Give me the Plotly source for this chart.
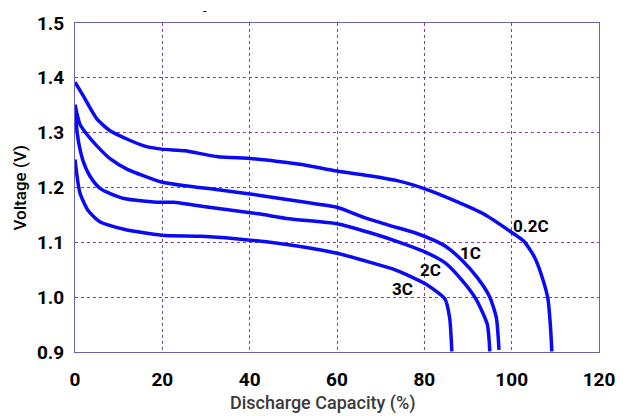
import plotly.graph_objects as go

# Discharge capacity (%) and voltage (V) for each discharge rate
cap_02c = [0, 1.9, 5, 8.1, 12, 15.8, 19.8, 25.2, 32.8, 40, 46, 52, 60, 67.8, 74, 80.3, 86.9, 93.5, 100.2, 102.8, 105.3, 107.2, 108.3, 108.9, 109.2]
v_02c = [1.392, 1.367, 1.325, 1.303, 1.288, 1.276, 1.270, 1.267, 1.256, 1.253, 1.248, 1.242, 1.230, 1.221, 1.212, 1.197, 1.176, 1.152, 1.117, 1.102, 1.072, 1.031, 0.997, 0.945, 0.901]

cap_1c = [0, 1.1, 2.7, 5, 8.1, 12, 15.8, 19.8, 25.2, 32.8, 42, 52.8, 60, 66, 72, 78, 82.4, 85, 88.4, 92.1, 95.0, 96.5, 97.1]
v_1c = [1.351, 1.316, 1.297, 1.276, 1.252, 1.233, 1.221, 1.210, 1.203, 1.196, 1.186, 1.173, 1.164, 1.146, 1.131, 1.117, 1.103, 1.092, 1.069, 1.036, 1.000, 0.962, 0.904]

cap_2c = [0, 0.5, 1, 2, 3.4, 5.8, 11.2, 19.8, 22.5, 30.7, 42, 49, 60, 67.8, 74, 80, 84.7, 88.4, 91.8, 94.4, 95]
v_2c = [1.340, 1.300, 1.275, 1.245, 1.221, 1.198, 1.180, 1.173, 1.173, 1.164, 1.152, 1.143, 1.134, 1.117, 1.101, 1.083, 1.063, 1.033, 0.997, 0.951, 0.901]

cap_3c = [0, 1.1, 3, 5.8, 11.2, 19.8, 29, 40.2, 51.2, 60, 67.8, 73.6, 80.3, 84.7, 85.8, 86.3]
v_3c = [1.251, 1.191, 1.158, 1.137, 1.124, 1.113, 1.111, 1.104, 1.093, 1.080, 1.063, 1.049, 1.024, 0.997, 0.962, 0.901]

series = [("0.2C", cap_02c, v_02c), ("1C", cap_1c, v_1c), ("2C", cap_2c, v_2c), ("3C", cap_3c, v_3c)]

# label positions (data coords)
label_text = ["0.2C", "1C", "2C", "3C"]
label_x = [104.5, 90.5, 81.5, 75.0]
label_y = [1.130, 1.080, 1.050, 1.015]

x_ticks = [0, 20, 40, 60, 80, 100, 120]
y_ticks = [0.9, 1.0, 1.1, 1.2, 1.3, 1.4, 1.5]
y_ticklabels = ["0.9", "1.0", "1.1", "1.2", "1.3", "1.4", "1.5"]

FONT = "Roboto, Liberation Sans Narrow, sans-serif"

fig = go.Figure()
for name, xs, ys in series:
    fig.add_trace(go.Scatter(x=xs, y=ys, mode="lines", name=name,
                             line=dict(color="#0a0af5", width=3.5, shape="spline", smoothing=0.6),
                             showlegend=False, hoverinfo="skip"))

for t, lx, ly in zip(label_text, label_x, label_y):
    fig.add_annotation(x=lx, y=ly, text=t, showarrow=False,
                       font=dict(family=FONT, size=17, color="black", weight=700))

grid = "#84409e"
fig.update_xaxes(range=[0, 120], tickvals=x_ticks, ticktext=[str(v) for v in x_ticks],
                 showgrid=True, gridcolor=grid, griddash="dot", gridwidth=1,
                 zeroline=False, showline=True, linecolor="#6a60b8", linewidth=1, mirror=True,
                 ticks="", ticklabelstandoff=10,
                 tickfont=dict(family=FONT, size=19, color="black", weight=700))
fig.update_yaxes(range=[0.9, 1.5], tickvals=y_ticks, ticktext=y_ticklabels,
                 showgrid=True, gridcolor=grid, griddash="dot", gridwidth=1,
                 zeroline=False, showline=True, linecolor="#6a60b8", linewidth=1, mirror=True,
                 ticks="", ticklabelstandoff=6,
                 tickfont=dict(family=FONT, size=19, color="black", weight=700))

fig.add_annotation(xref="paper", yref="paper", x=-0.105, y=0.5, xanchor="center", yanchor="middle",
                   text="Voltage (V)", textangle=-90, showarrow=False,
                   font=dict(family=FONT, size=17, color="black", weight=500))
fig.add_annotation(xref="paper", yref="paper", x=0.473, y=-0.155, xanchor="center", yanchor="middle",
                   text="Discharge Capacity (%)", showarrow=False,
                   font=dict(family=FONT, size=18, color="#3a3a3a", weight=500))
fig.add_annotation(xref="paper", yref="paper", x=0.248, y=1.035, xanchor="center", yanchor="middle",
                   text="-", showarrow=False,
                   font=dict(family=FONT, size=12, color="black"))

fig.update_layout(width=627, height=416, margin=dict(l=75, r=17, t=17, b=64),
                  plot_bgcolor="white", paper_bgcolor="white")

fig.write_html("out.html")
